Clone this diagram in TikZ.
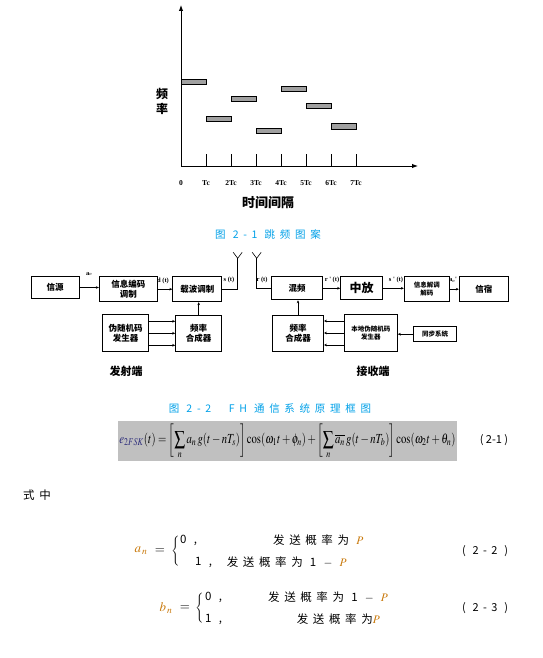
\documentclass[tikz,border=0pt]{standalone}
\usepackage{mathptmx}
\usepackage[no-math]{fontspec}
\usepackage{amsmath}
\usepackage{graphicx}
\usepackage{xcolor}
\usepackage{tikz}
\usetikzlibrary{arrows.meta, positioning}
\setmainfont{Noto Sans CJK SC}
\newfontfamily\latin{Liberation Serif}
\newfontfamily\spaced[LetterSpace=40]{Noto Sans CJK SC}
\newfontfamily\capfont[LetterSpace=45]{Noto Sans CJK SC}
\definecolor{capblue}{HTML}{00A0E8}
\definecolor{eqorange}{HTML}{C8780A}
\definecolor{eqnavy}{HTML}{2B2B7A}
\definecolor{bargray}{HTML}{A0A0A0}
\definecolor{eqgray}{HTML}{C0C0C0}

\begin{document}
\begin{tikzpicture}[x=1pt, y=-1pt,
  >={Stealth[length=3pt, width=2.6pt]},
  box/.style={draw, line width=0.9pt, inner sep=0pt, align=center,
              font=\fontsize{8.5}{10}\selectfont\bfseries},
  small/.style={font=\fontsize{6.5}{8}\selectfont\bfseries},
  arr/.style={->, line width=0.6pt},
  axis/.style={-{Latex[length=6pt, width=4.5pt]}, line width=1pt},
  bar/.style={draw, fill=bargray, line width=0.7pt},
  lbl/.style={font=\latin\fontsize{6.5}{7}\selectfont\bfseries, inner sep=0pt},
  ticklbl/.style={font=\latin\fontsize{7.5}{8}\selectfont\bfseries, inner sep=0pt},
  figcap/.style={font=\capfont\fontsize{10.5}{12}\selectfont, text=capblue, inner sep=0pt},
  eqtxt/.style={font=\spaced\fontsize{11.5}{13}\selectfont, inner sep=0pt, anchor=west},
  eqsym/.style={font=\fontsize{13}{14}\selectfont, inner sep=0pt},
  eqno/.style={font=\spaced\fontsize{11}{13}\selectfont, inner sep=0pt}
]
\useasboundingbox (0,0) rectangle (542,658);

% hopping pattern
\coordinate (O) at (181,166);
\coordinate (xend) at (418,166);
\coordinate (yend) at (181,5);
\draw[axis] (O) -- (xend);
\draw[axis] (O) -- (yend);
\foreach \i in {1,...,7}
  \draw[line width=0.8pt] (181+25*\i,154) -- (181+25*\i,166);
\foreach \i/\t in {0/0,1/Tc,2/2Tc,3/3Tc,4/4Tc,5/5Tc,6/6Tc,7/7Tc}
  \node[ticklbl] (t\i) at (181+25*\i,183) {\t};
\foreach \i/\fy in {0/81.7,1/119,2/99,3/131,4/89,5/106,6/126.5}
  \draw[bar] (181+25*\i,\fy-2.8) rectangle ++(25,5.6);
\node[font=\fontsize{13}{14}\selectfont\bfseries] (xlab) at (268,203) {时间间隔};
\node[font=\fontsize{12}{15}\selectfont\bfseries, align=center] (ylab) at (162,101.5) {频\\率};
\node[figcap] (cap1) at (268,234.5) {图 2-1 跳频图案};

% transmitter
\node[box, minimum width=48pt, minimum height=22pt] (src)  at (55,287.5)    {信源};
\node[box, minimum width=58pt, minimum height=25pt] (enc)  at (128.3,289.2) {信息编码\\调制};
\node[box, minimum width=49pt, minimum height=25pt] (mod)  at (197.3,289.2) {载波调制};
\node[box, minimum width=46pt, minimum height=37pt] (prn)  at (125.5,333.3) {伪随机码\\发生器};
\node[box, minimum width=46pt, minimum height=36pt] (syn)  at (198.7,333.8) {频率\\合成器};
\coordinate (txa) at (237.7,258.3);

% receiver
\coordinate (rxa) at (256.7,258.3);
\node[box, minimum width=51pt, minimum height=23pt] (mix)  at (297.2,288.3) {混频};
\node[box, minimum width=42pt, minimum height=23pt, font=\fontsize{12}{14}\selectfont\bfseries] (ifa) at (361.7,288.3) {中放};
\node[box, minimum width=45pt, minimum height=25pt, small] (dem) at (426.8,289.2) {信息解调\\解码};
\node[box, minimum width=49pt, minimum height=25pt] (sink) at (483.8,289.2) {信宿};
\node[box, minimum width=51pt, minimum height=36pt] (rsyn) at (298,333.7)   {频率\\合成器};
\node[box, minimum width=53pt, minimum height=37pt, small] (lprn) at (370.8,333) {本地伪随机码\\发生器};
\node[box, minimum width=43pt, minimum height=15pt, small] (sync) at (435,334.2) {同步系统};

% arrows
\draw[arr] (src.east) -- (src.east -| enc.west);
\draw[arr] (enc.east) -- (mod.west);
\draw[line width=0.6pt] (mod.east) -| (txa);
\draw[line width=0.6pt] (txa) -- ++(-4.5,-6) (txa) -- ++(4.5,-6);
\draw[line width=0.6pt] (rxa) |- (mix.west);
\draw[line width=0.6pt] (rxa) -- ++(-4.5,-6) (rxa) -- ++(4.5,-6);
\draw[arr] (syn.north) -- (syn.north |- mod.south);
\foreach \dy in {12,0,-12}
  \draw[arr] ([yshift=\dy pt]prn.east) -- ([yshift=\dy pt]prn.east -| syn.west);
\draw[arr] (mix.east) -- (mix.east -| ifa.west);
\draw[arr] (ifa.east) -- (ifa.east -| dem.west);
\draw[arr] (dem.east) -- (sink.west);
\draw[arr] (rsyn.north) -- (rsyn.north |- mix.south);
\foreach \dy in {12,0,-12}
  \draw[arr] ([yshift=\dy pt]lprn.west) -- ([yshift=\dy pt]lprn.west -| rsyn.east);
\draw[arr] (sync.west) -- (sync.west -| lprn.east);

% signal labels
\node[lbl] (l-a)  at (89.3,274) {a$_{n}$};
\node[lbl] (l-d)  at (163,281)  {d (t)};
\node[lbl] (l-s)  at (229,280)  {s (t)};
\node[lbl] (l-r)  at (262,280)  {r (t)};
\node[lbl] (l-r2) at (332,280)  {r ' (t)};
\node[lbl] (l-s2) at (396,280)  {s ' (t)};
\node[lbl] (l-a2) at (453,280)  {a$_{n}$'};
\node[font=\fontsize{11}{12}\selectfont\bfseries] (txt) at (126,371) {发射端};
\node[font=\fontsize{11}{12}\selectfont\bfseries] (rxt) at (373,371) {接收端};
\node[figcap] (cap2) at (270,408.5) {图 2-2 \quad FH 通信系统原理框图};

% formula (2-1)
\node[fill=eqgray, minimum width=339pt, minimum height=40pt, inner sep=0pt] (eqbg) at (287.5,441) {};
\node[inner sep=0pt] (eq1) at (eqbg) {\resizebox*{336pt}{35pt}{$\displaystyle
  \textcolor{eqnavy}{e_{2FSK}}(t)=\left[\sum_{n} a_n\, g(t-nT_s)\right]\cos(\omega_1 t+\phi_n)
  +\left[\sum_{n}\overline{a_n}\, g(t-nT_b)\right]\cos(\omega_2 t+\theta_n)$}};
\node[font=\fontsize{11}{13}\selectfont, inner sep=0pt] (n1) at (494,440) {( 2-1 )};

\node[eqtxt] (shi) at (23,495) {式中};

% a_n
\node[eqsym, text=eqorange] (an) at (141,551) {$a_{\,n}$};
\node[eqsym] (aeq) at (160,551) {$=$};
\node[inner sep=0pt] (abr) at (176,551) {$\left\{\vrule height 17pt depth 12pt width 0pt\right.$};
\node[eqtxt] (a0) at (180,540) {0 ,};
\node[eqtxt] (a0t) at (273,540) {发送概率为 \textcolor{eqorange}{$P$}};
\node[eqtxt] (a1) at (195,562) {1 ,};
\node[eqtxt] (a1t) at (226.7,562) {发送概率为 1 $-$ \textcolor{eqorange}{$P$}};
\node[eqno] (n2) at (485,551) {( 2-2 )};

% b_n
\node[eqsym, text=eqorange] (bn) at (166,608) {$b_{\,n}$};
\node[eqsym] (beq) at (185,608) {$=$};
\node[inner sep=0pt] (bbr) at (200,608) {$\left\{\vrule height 18pt depth 13pt width 0pt\right.$};
\node[eqtxt] (b0) at (205,597) {0 ,};
\node[eqtxt] (b0t) at (268,597) {发送概率为 1 $-$ \textcolor{eqorange}{$P$}};
\node[eqtxt] (b1) at (205,619.5) {1 ,};
\node[eqtxt] (b1t) at (296.7,619.5) {发送概率为\textcolor{eqorange}{$P$}};
\node[eqno] (n3) at (485,608) {( 2-3 )};
\end{tikzpicture}
\end{document}
